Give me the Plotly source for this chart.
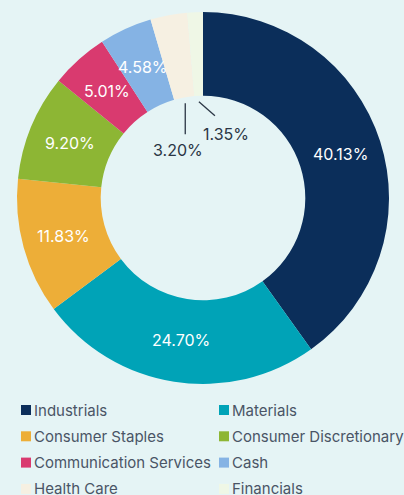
import math
import plotly.graph_objects as go

labels = ["Industrials", "Materials", "Consumer Staples", "Consumer Discretionary",
          "Communication Services", "Cash", "Health Care", "Financials"]
values = [40.13, 24.70, 11.83, 9.20, 5.01, 4.58, 3.20, 1.35]
colors = ["#0b2e5a", "#00a3b7", "#edae38", "#8db634",
          "#d93a6f", "#85b3e4", "#f6f0e2", "#eff7e6"]

W, H = 404, 495
BG = "#e5f4f5"
CX, CY, R_OUT = 203, 198, 186
HOLE = 0.55
R_IN = R_OUT * HOLE
R_TXT = (R_OUT + R_IN) / 2

def px(x, y):
    return x / W, 1 - y / H

fig = go.Figure()
fig.add_trace(go.Pie(
    labels=labels, values=values, hole=HOLE, sort=False,
    direction="clockwise", rotation=0,
    marker=dict(colors=colors, line=dict(width=0)),
    textinfo="none", hoverinfo="label+percent", showlegend=False,
    domain=dict(x=[(CX - R_OUT) / W, (CX + R_OUT) / W],
                y=[1 - (CY + R_OUT) / H, 1 - (CY - R_OUT) / H]),
))

annotations = []
shapes = []
total = sum(values)
cum = 0.0
small_offsets = {6: ((0, 31), (-7, 47)), 7: ((16, 14), (27, 32))}
for i, v in enumerate(values):
    mid = (cum + v / 2) / total * 2 * math.pi
    cum += v
    txt = f"{v:.2f}%"
    if i in small_offsets:
        r0 = R_IN - 6
        x0 = CX + r0 * math.sin(mid)
        y0 = CY - r0 * math.cos(mid)
        (dx, dy), (tx, ty) = small_offsets[i]
        ax0, ay0 = px(x0, y0)
        ax1, ay1 = px(x0 + dx, y0 + dy)
        shapes.append(dict(type="line", xref="paper", yref="paper",
                           x0=ax0, y0=ay0, x1=ax1, y1=ay1,
                           line=dict(color="#2b3645", width=1.3)))
        lx, ly = px(x0 + tx, y0 + ty)
        annotations.append(dict(x=lx, y=ly, xref="paper", yref="paper", text=txt,
                                showarrow=False, xanchor="center", yanchor="middle",
                                font=dict(family="Inter", size=16, color="#2b3645")))
    else:
        x = CX + R_TXT * math.sin(mid)
        y = CY - R_TXT * math.cos(mid)
        lx, ly = px(x, y)
        annotations.append(dict(x=lx, y=ly, xref="paper", yref="paper", text=txt,
                                showarrow=False, xanchor="center", yanchor="middle",
                                font=dict(family="Inter", size=16, color="#ffffff")))

# legend (2 columns)
LEG_X = [21, 219]
LEG_Y0, LEG_DY = 410, 26.3
SQ = 10
for i, (lab, col) in enumerate(zip(labels, colors)):
    r, c = divmod(i, 2)
    x = LEG_X[c]
    y = LEG_Y0 + r * LEG_DY
    sx0, sy0 = px(x, y - SQ / 2)
    sx1, sy1 = px(x + SQ, y + SQ / 2)
    shapes.append(dict(type="rect", xref="paper", yref="paper",
                       x0=sx0, y0=sy0, x1=sx1, y1=sy1,
                       fillcolor=col, line=dict(width=0)))
    tx, ty = px(x + SQ + 1, y)
    annotations.append(dict(x=tx, y=ty, xref="paper", yref="paper", text=lab,
                            showarrow=False, xanchor="left", yanchor="middle",
                            font=dict(family="Inter", size=15, color="#4a5566")))

fig.update_layout(
    width=W, height=H,
    margin=dict(l=0, r=0, t=0, b=0),
    paper_bgcolor=BG, plot_bgcolor=BG,
    annotations=annotations, shapes=shapes,
    showlegend=False,
)

fig.write_html("out.html", config={"displayModeBar": False},
               post_script="document.body.style.margin='0';document.body.style.background='%s';" % BG)
